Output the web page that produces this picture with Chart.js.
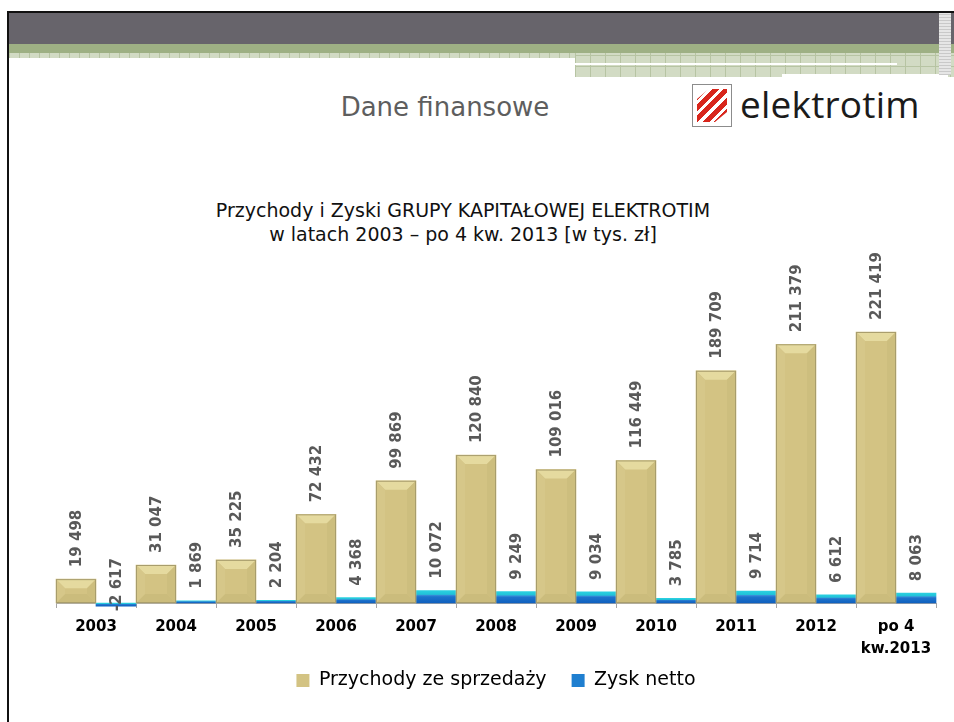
<!DOCTYPE html>
<html>
<head>
<meta charset="utf-8">
<script src="https://cdn.jsdelivr.net/npm/chart.js@4.4.1/dist/chart.umd.min.js"></script>
<style>
  html, body { margin: 0; padding: 0; background: #fff; }
  body { width: 954px; height: 722px; overflow: hidden; position: relative;
         font-family: "DejaVu Sans", sans-serif; }
  .abs { position: absolute; }
  .frame-top { left: 7px; top: 11px; width: 947px; height: 2px; background: #111; }
  .frame-left { left: 7px; top: 11px; width: 2px; height: 711px; background: #111; }
  .band-grey { left: 9px; top: 13px; width: 945px; height: 31px; background: #67646b; }
  .band-green { left: 9px; top: 44px; width: 945px; height: 9px; background: #9eb084; }
  .strip { left: 9px; top: 53px; width: 566px; height: 5px;
           background: repeating-linear-gradient(90deg, #b7c4a3 0 1px, #d2dbc4 1px 10px); }
  .strip-r { left: 575px; top: 53px; width: 379px; height: 24px;
             background:
               repeating-linear-gradient(0deg, transparent 0 10px, #b7c4a3 10px 11px),
               repeating-linear-gradient(90deg, #b7c4a3 0 1px, #d2dbc4 1px 15px); }
  .white-line { left: 575px; top: 63px; width: 322px; height: 2px; background: #fff; }
  .white-r { left: 782px; top: 74px; width: 166px; height: 4px; background: #fff; }
  .vstrip { left: 939px; top: 13px; width: 12px; height: 62px;
            background: repeating-linear-gradient(0deg, #c9c9c9 0 1px, #e6e6e6 1px 3px); }
  .heading { left: 290px; top: 92px; width: 310px; text-align: center; font-size: 26px; color: #5e5e5e; }
  .logo-icon { left: 692px; top: 84px; width: 38px; height: 41px; border: 1px solid #8c8c8c; background: #fff; overflow: hidden; }
  .logo-icon div { position: absolute; left: 4px; top: 4px; width: 30px; height: 33px;
                   background: repeating-linear-gradient(135deg, #fff 0 3px, #d8261c 3px 8px);
                   clip-path: polygon(40% 0, 100% 0, 100% 70%, 60% 100%, 0 100%, 0 30%); }
  .logo-text { left: 740px; top: 78px; font-family: "Open Sans", sans-serif; font-size: 37px; color: #1b1b1b; letter-spacing: 0.2px; }
  .title { left: 113px; top: 198px; width: 700px; text-align: center; font-size: 19px; line-height: 24px; color: #111; }
  #wrap { left: 0; top: 250px; width: 954px; height: 460px; }
</style>
</head>
<body>
<div class="abs frame-top"></div>
<div class="abs band-grey"></div>
<div class="abs band-green"></div>
<div class="abs strip"></div>
<div class="abs strip-r"></div>
<div class="abs white-line"></div>
<div class="abs white-r"></div>
<div class="abs vstrip"></div>
<div class="abs frame-left"></div>
<div class="abs heading">Dane finansowe</div>
<div class="abs logo-icon"><div></div></div>
<div class="abs logo-text">elektrotim</div>
<div class="abs title">Przychody i Zyski GRUPY KAPITAŁOWEJ ELEKTROTIM<br>w latach 2003 – po 4 kw. 2013 [w tys. zł]</div>
<div class="abs" id="wrap"><canvas id="chart"></canvas></div>

<script>
// Data (w tys. zł)
const years = ['2003', '2004', '2005', '2006', '2007', '2008', '2009', '2010', '2011', '2012', ['po 4', 'kw.2013']];
const revenue = [19498, 31047, 35225, 72432, 99869, 120840, 109016, 116449, 189709, 211379, 221419];
const netProfit = [-2617, 1869, 2204, 4368, 10072, 9249, 9034, 3785, 9714, 6612, 8063];
const seriesNames = ['Przychody ze sprzedaży', 'Zysk netto'];
const legendColors = ['#d3c383', '#1f7fd0'];

const fmt = v => (v < 0 ? '-' : '') + String(Math.abs(v)).replace(/\B(?=(\d{3})+(?!\d))/g, ' ');

// blue gradient for profit bars, built from the bar's own pixels
const profitFill = (context) => {
    const chart = context.chart;
    const y = chart.scales.y;
    if (!y || context.raw === undefined) return legendColors[1];
    const top = Math.min(y.getPixelForValue(context.raw), y.getPixelForValue(0));
    const bottom = Math.max(y.getPixelForValue(context.raw), y.getPixelForValue(0));
    const g = chart.ctx.createLinearGradient(0, top, 0, bottom + 0.01);
    g.addColorStop(0, '#2bd0e0');
    g.addColorStop(0.3, '#20c2d8');
    g.addColorStop(0.36, '#3a8fd8');
    g.addColorStop(0.5, '#1d72cc');
    g.addColorStop(1, '#0f60be');
    return g;
};

// bevel on revenue bars + rotated value labels
const barDecor = {
    id: 'barDecor',
    afterDatasetDraw(chart, args) {
        if (args.index !== 0) return;
        const ctx = chart.ctx;
        args.meta.data.forEach(bar => {
            const l = bar.x - bar.width / 2, r = bar.x + bar.width / 2;
            const t = bar.y, b = bar.base;
            const d = Math.min(9, (b - t) / 2, bar.width / 2);
            const poly = (pts, color) => {
                ctx.beginPath();
                pts.forEach((p, k) => k ? ctx.lineTo(p[0], p[1]) : ctx.moveTo(p[0], p[1]));
                ctx.closePath();
                ctx.fillStyle = color;
                ctx.fill();
            };
            ctx.save();
            poly([[l, t], [r, t], [r - d, t + d], [l + d, t + d]], '#e5da9f');
            poly([[l, b], [r, b], [r - d, b - d], [l + d, b - d]], '#cbbc7c');
            poly([[l, t], [l + d, t + d], [l + d, b - d], [l, b]], '#d6c789');
            poly([[r, t], [r - d, t + d], [r - d, b - d], [r, b]], '#cdbe7e');
            ctx.strokeStyle = '#a89d6c';
            ctx.lineWidth = 1;
            ctx.strokeRect(l + 0.5, t + 0.5, bar.width - 1, b - t - 1);
            ctx.restore();
        });
    },
    afterDatasetsDraw(chart) {
        const ctx = chart.ctx;
        ctx.save();
        ctx.font = 'bold 15px "DejaVu Sans"';
        ctx.fillStyle = '#595959';
        ctx.textAlign = 'left';
        ctx.textBaseline = 'middle';
        chart.data.datasets.forEach((ds, i) => {
            chart.getDatasetMeta(i).data.forEach((bar, j) => {
                const v = ds.data[j];
                const start = v < 0 ? bar.y + 5 : bar.y - 12;
                ctx.save();
                ctx.translate(bar.x + 1, start);
                ctx.rotate(-Math.PI / 2);
                ctx.fillText(fmt(v), 0, 0);
                ctx.restore();
            });
        });
        ctx.restore();
    }
};

const initializeChart = () => {
    const ctx = document.getElementById('chart').getContext('2d');
    new Chart(ctx, {
        type: 'bar',
        data: {
            labels: years,
            datasets: [{
                label: seriesNames[0],
                data: revenue,
                backgroundColor: '#d3c383',
                borderWidth: 0,
                categoryPercentage: 1,
                barPercentage: 1,
                clip: false
            }, {
                label: seriesNames[1],
                data: netProfit,
                backgroundColor: profitFill,
                borderWidth: 0,
                categoryPercentage: 1,
                barPercentage: 1,
                clip: false
            }]
        },
        options: {
            responsive: true,
            maintainAspectRatio: false,
            animation: false,
            layout: { padding: { left: 56, right: 18, top: 11, bottom: 10 } },
            scales: {
                x: {
                    grid: { drawOnChartArea: false, color: '#a6a6a6', tickLength: 5, offset: true },
                    border: { color: '#a6a6a6' },
                    ticks: {
                        color: '#000',
                        font: { family: '"DejaVu Sans"', size: 15, weight: 'bold', lineHeight: 1.45 },
                        maxRotation: 0,
                        autoSkip: false,
                        padding: 8
                    },
                    afterFit: scale => { scale.height = 62; }
                },
                y: { display: false, min: 0, max: 279400 }
            },
            plugins: {
                legend: {
                    position: 'bottom',
                    labels: {
                        boxWidth: 13,
                        boxHeight: 13,
                        padding: 6,
                        color: '#000',
                        font: { family: '"DejaVu Sans"', size: 19 },
                        // extra em space after the first entry keeps the wide gap between items
                        generateLabels: chart => chart.data.datasets.map((ds, i) => ({
                            text: i === 0 ? ds.label + '\u2003' : ds.label,
                            fillStyle: legendColors[i],
                            strokeStyle: legendColors[i],
                            lineWidth: 0,
                            hidden: !chart.isDatasetVisible(i),
                            datasetIndex: i
                        }))
                    }
                },
                tooltip: { enabled: false }
            }
        },
        plugins: [barDecor]
    });
};

document.addEventListener('DOMContentLoaded', initializeChart);
</script>
</body>
</html>
